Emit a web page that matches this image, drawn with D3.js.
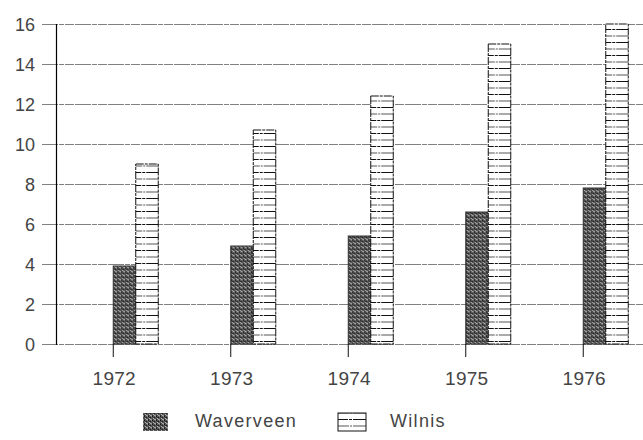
<!DOCTYPE html>
<html><head><meta charset="utf-8">
<script src="https://cdn.jsdelivr.net/npm/d3@7"></script>
<style>
html,body{margin:0;padding:0;background:#fff;}
svg{display:block;font-family:"Liberation Sans",Arial,sans-serif;}
</style></head>
<body>
<svg id="chart" width="643" height="440"></svg>
<script>
const years = ["1972","1973","1974","1975","1976"];
const seriesNames = ["Waverveen","Wilnis"];
const waverveen = [3.9, 4.9, 5.4, 6.6, 7.8];
const wilnis = [9.0, 10.7, 12.4, 15.0, 16.0];
const yTicks = [0,2,4,6,8,10,12,14,16];

const values = {Waverveen: waverveen, Wilnis: wilnis};
const svg = d3.select("#chart");
const defs = svg.append("defs");

// textured dark fill
const p1 = defs.append("pattern").attr("id","pWav").attr("patternUnits","userSpaceOnUse")
  .attr("width",4).attr("height",4);
p1.append("rect").attr("width",4).attr("height",4).attr("fill","#555");
[[0,0,"#1a1a1a"],[2,1,"#222"],[1,2,"#bbb"],[3,3,"#999"],[3,0,"#888"],[0,3,"#2a2a2a"],[1,1,"#3a3a3a"],[2,3,"#aaa"]]
  .forEach(([x,y,c])=>p1.append("rect").attr("x",x).attr("y",y).attr("width",1).attr("height",1).attr("fill",c));

// horizontal line fill
const p2 = defs.append("pattern").attr("id","pWil").attr("patternUnits","userSpaceOnUse")
  .attr("width",20).attr("height",13);
p2.append("rect").attr("width",20).attr("height",13).attr("fill","#fff");
p2.append("line").attr("x1",0).attr("x2",20).attr("y1",3.5).attr("y2",3.5)
  .attr("stroke","#111").attr("stroke-width",1).attr("stroke-dasharray","8 1 3 1");
p2.append("line").attr("x1",0).attr("x2",20).attr("y1",10).attr("y2",10)
  .attr("stroke","#555").attr("stroke-width",1).attr("stroke-dasharray","9 1 2 1");

const fills = {Waverveen:"url(#pWav)", Wilnis:"url(#pWil)"};

const x = d3.scaleBand().domain(years).range([54.5, 642]).padding(0);
const inner = d3.scaleBand().domain(seriesNames).range([0, 45]);
const y = d3.scaleLinear().domain([0,16]).range([344, 24]);
const center = d => x(d) + x.bandwidth()/2;

// gridlines
svg.append("g").selectAll("line").data(yTicks).join("line")
  .attr("x1",42).attr("x2",643)
  .attr("y1",d=>y(d)+0.5).attr("y2",d=>y(d)+0.5)
  .attr("stroke","#808080").attr("stroke-width",1)
  .attr("stroke-dasharray","16 1 5 1 9 1");

// y labels
svg.append("g").selectAll("text").data(yTicks).join("text")
  .attr("x",35).attr("y",d=>y(d)+6.5)
  .attr("text-anchor","end").attr("font-size",18).attr("fill","#444")
  .text(d=>d);

// y axis line
svg.append("line").attr("x1",56.5).attr("x2",56.5).attr("y1",y(16)).attr("y2",y(0)+1)
  .attr("stroke","#000").attr("stroke-width",1.2);

// bars
const groups = svg.append("g").selectAll("g").data(years).join("g")
  .attr("transform",d=>`translate(${center(d)},0)`);
groups.selectAll("rect").data((d,i)=>seriesNames.map(s=>({s, v: values[s][i]}))).join("rect")
  .attr("x",d=>inner(d.s)).attr("width",inner.bandwidth())
  .attr("y",d=>y(d.v)).attr("height",d=>y(0)-y(d.v))
  .attr("fill",d=>fills[d.s])
  .attr("stroke",d=>d.s==="Wilnis" ? "#111" : "#333").attr("stroke-width",1)
  .attr("stroke-dasharray",d=>d.s==="Wilnis" ? "8 1 3 1" : null);

// x ticks
svg.append("g").selectAll("line").data(years).join("line")
  .attr("x1",d=>center(d)).attr("x2",d=>center(d))
  .attr("y1",y(0)).attr("y2",357)
  .attr("stroke","#111").attr("stroke-width",1);

// x labels
svg.append("g").selectAll("text").data(years).join("text")
  .attr("x",d=>center(d)+1).attr("y",385)
  .attr("text-anchor","middle").attr("font-size",19).attr("fill","#444")
  .attr("letter-spacing",0.3)
  .text(d=>d);

// legend
const legendX = {Waverveen:[143,195], Wilnis:[338,390]};
const lg = svg.append("g").selectAll("g").data(seriesNames).join("g");
lg.append("rect")
  .attr("x",d=>legendX[d][0]).attr("y",413)
  .attr("width",d=>d==="Wilnis"?28:25).attr("height",18)
  .attr("fill",d=>fills[d])
  .attr("stroke",d=>d==="Wilnis"?"#111":"none").attr("stroke-width",1);
lg.append("text")
  .attr("x",d=>legendX[d][1]).attr("y",427)
  .attr("font-size",18).attr("fill","#444").attr("letter-spacing",1.3)
  .text(d=>d);
</script>
</body></html>
